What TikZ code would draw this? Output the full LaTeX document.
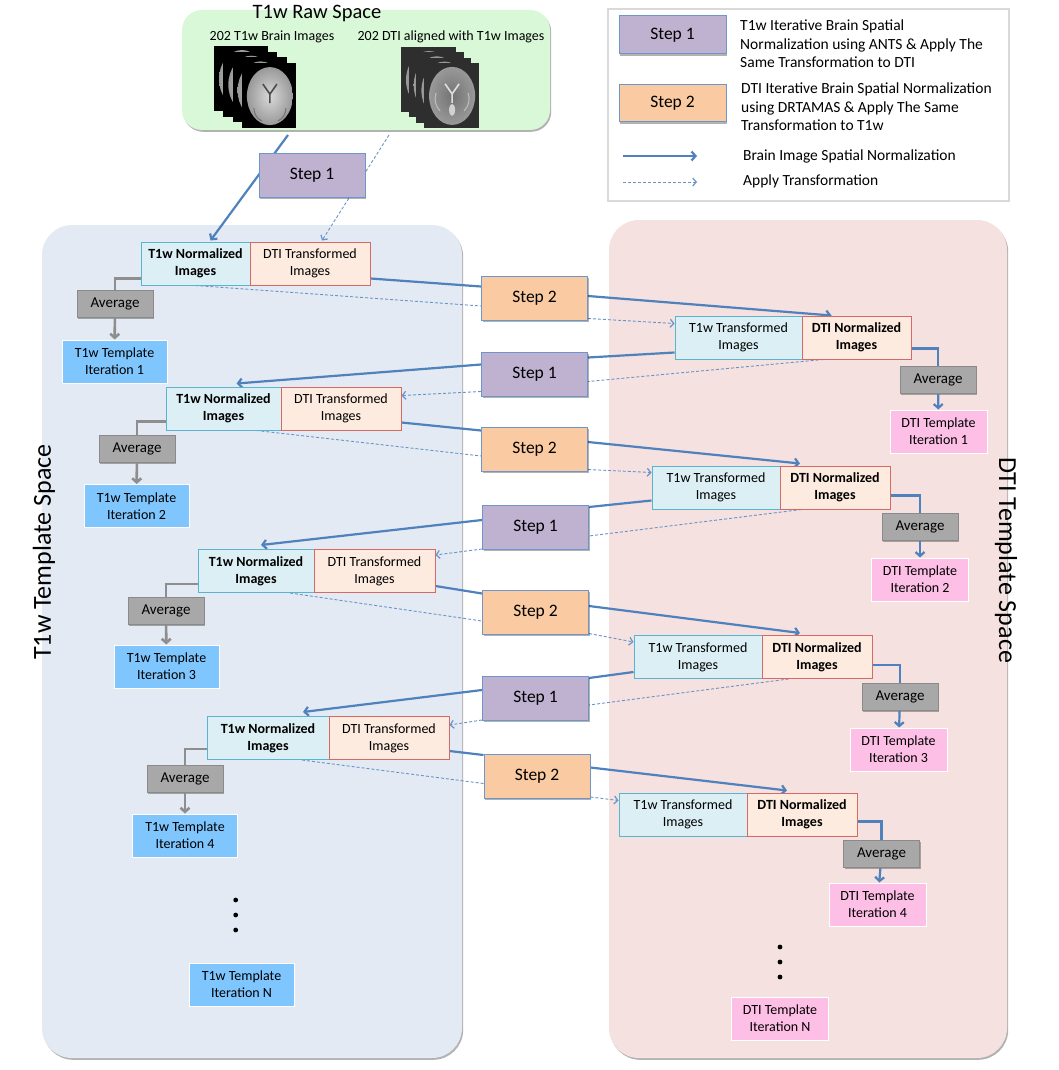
\documentclass[tikz,border=0pt]{standalone}
\usepackage{fontspec}
\setmainfont{Carlito}
\usetikzlibrary{arrows.meta,shadows}

\definecolor{lineblue}{HTML}{4F81BD}
\definecolor{t1fill}{HTML}{DCEFF5}
\definecolor{t1line}{HTML}{5BB4CE}
\definecolor{dtifill}{HTML}{FCEBDE}
\definecolor{dtiline}{HTML}{D46A66}
\definecolor{purplestep}{HTML}{BFB1D0}
\definecolor{orangestep}{HTML}{FACBA2}
\definecolor{stepline}{HTML}{6E95CC}
\definecolor{avgfill}{HTML}{A8A8A8}
\definecolor{avgline}{HTML}{8A8A8A}
\definecolor{t1tmpfill}{HTML}{7FC6FE}
\definecolor{dtitmpfill}{HTML}{FEBFE7}
\definecolor{lpanel}{HTML}{E3EAF4}
\definecolor{rpanel}{HTML}{F4E1E0}
\definecolor{rawgreen}{HTML}{D9F8D8}
\definecolor{connectgray}{HTML}{8E8E8E}
\definecolor{legline}{HTML}{D9D9D9}

\pgfdeclarelayer{back}
\pgfdeclarelayer{mid}
\pgfsetlayers{back,mid,main}

\tikzset{
  softshadow/.style={drop shadow={shadow xshift=1.2pt,shadow yshift=-1.8pt,fill=black,opacity=.3}},
  imgbox/.style={minimum height=43pt, inner sep=2pt, align=center, line width=1pt,
    font=\fontsize{14}{17}\selectfont},
  t1box/.style={imgbox, fill=t1fill, draw=t1line, minimum width=#1},
  dtibox/.style={imgbox, fill=dtifill, draw=dtiline, minimum width=#1},
  stepone/.style={draw=stepline, line width=1pt, fill=purplestep, minimum width=106pt,
    minimum height=44pt, font=\fontsize{17.5}{21}\selectfont, softshadow},
  steptwo/.style={stepone, fill=orangestep},
  avgbox/.style={fill=avgfill, draw=avgline, line width=1pt, minimum width=76pt,
    minimum height=27pt, font=\fontsize{15}{18}\selectfont, softshadow},
  t1tmp/.style={imgbox, fill=t1tmpfill, draw=white, minimum width=105pt},
  dtitmp/.style={imgbox, fill=dtitmpfill, draw=white, minimum width=97pt},
  normline/.style={draw=lineblue, line width=2.2pt},
  normarrow/.style={normline, -{Straight Barb[length=4pt,width=9pt]}},
  applyline/.style={draw=lineblue!85, line width=.9pt, dash pattern=on 3pt off 2pt},
  applyarrow/.style={applyline, -{Straight Barb[length=3.5pt,width=8pt,line width=1.2pt]}},
  grayline/.style={draw=connectgray, line width=2.6pt},
  grayarrow/.style={grayline, -{Straight Barb[length=4pt,width=9pt]}},
  legtext/.style={anchor=west, align=left, inner sep=0pt, font=\fontsize{15.5}{18.5}\selectfont},
  spacelabel/.style={font=\fontsize{26}{30}\selectfont, inner sep=0pt}
}

\begin{document}
\begin{tikzpicture}[x=1pt,y=-1pt]
  \useasboundingbox (0,0) rectangle (1058,1070);

  % template spaces
  \begin{pgfonlayer}{back}
    \fill[lpanel, rounded corners=30pt, softshadow] (42,225) rectangle (462,1058);
    \fill[rpanel, rounded corners=30pt, softshadow] (609,220) rectangle (1007,1058);
  \end{pgfonlayer}
  \node[spacelabel, rotate=90]  (t1space)  at (44,552)   {T1w Template Space};
  \node[spacelabel, rotate=-90] (dtispace) at (1006,560) {DTI Template Space};

  % raw space
  \node[fill=rawgreen, rounded corners=20pt, minimum width=368pt, minimum height=120pt,
        softshadow] (raw) at (366,70) {};
  \node[font=\fontsize{20.5}{24}\selectfont] (rawtitle) at (317,14) {T1w Raw Space};
  \node[font=\fontsize{14}{17}\selectfont] (rawt1)  at (272,37) {202 T1w Brain Images};
  \node[font=\fontsize{14}{17}\selectfont] (rawdti) at (451,37) {202 DTI aligned with T1w Images};

  \foreach \i in {0,...,3} {
    \begin{scope}[shift={(214+9.3*\i,46+5.7*\i)}]
      \fill[black] (0,0) rectangle (54,65);
      \shade[inner color=black!15, outer color=black!40] (28,33) ellipse (23pt and 29pt);
      \draw[black!70, line width=1.6pt] (21,21) -- (28,31) -- (35,21) (28,31) -- (28,40);
      \draw[black!55, line width=1pt] (12,45) to[bend right] (20,58) (44,45) to[bend left] (36,58);
    \end{scope}
    \begin{scope}[shift={(401+7.7*\i,47+5.3*\i)}]
      \fill[black!82] (0,0) rectangle (55,65);
      \shade[inner color=black!55, outer color=black!40] (28,33) ellipse (23pt and 29pt);
      \draw[black!12, line width=1.6pt] (21,21) -- (28,31) -- (35,21) (28,31) -- (28,40);
      \fill[black!18] (28,47) ellipse (3pt and 6pt);
      \draw[black!25, line width=1pt] (12,30) to[bend right] (16,48) (44,30) to[bend left] (40,48);
    \end{scope}
  }

  % legend
  \draw[legline, line width=2pt, fill=white] (608,9) rectangle (1009,201);
  \node[stepone, minimum width=107pt, minimum height=38pt] (legs1) at (672.5,35)  {Step 1};
  \node[steptwo, minimum width=107pt, minimum height=37pt] (legs2) at (672.5,103.5) {Step 2};
  \node[legtext] (legt1) at (740,44)  {T1w Iterative Brain Spatial\\Normalization using ANTS \& Apply The\\Same Transformation to DTI};
  \node[legtext] (legt2) at (741,107) {DTI Iterative Brain Spatial Normalization\\using DRTAMAS \& Apply The Same\\Transformation to T1w};
  \node[legtext] (legt3) at (743,156) {Brain Image Spatial Normalization};
  \node[legtext] (legt4) at (743,181) {Apply Transformation};
  \coordinate (lega1) at (623,156);
  \coordinate (lega2) at (697,156);
  \coordinate (legb1) at (623,182);
  \coordinate (legb2) at (697,182);
  \draw[normarrow]  (lega1) -- (lega2);
  \draw[applyarrow] (legb1) -- (legb2);

  % steps
  \node[stepone] (s1a) at (312,175)     {Step 1};
  \node[steptwo] (s2a) at (534.5,298)   {Step 2};
  \node[stepone] (s1b) at (534.5,374)   {Step 1};
  \node[steptwo] (s2b) at (534.5,449)   {Step 2};
  \node[stepone] (s1c) at (535.5,527.5) {Step 1};
  \node[steptwo] (s2c) at (535.5,612)   {Step 2};
  \node[stepone] (s1d) at (535.5,698.5) {Step 1};
  \node[steptwo] (s2d) at (537,776.5)   {Step 2};

  % T1w template space
  \node[t1box=109]  (t1n1)  at (195.5,263.5) {\textbf{T1w Normalized}\\\textbf{Images}};
  \node[dtibox=120] (dtit1) at (310,263.5)   {DTI Transformed\\Images};
  \node[t1box=115]  (t1n2)  at (223.5,408.5) {\textbf{T1w Normalized}\\\textbf{Images}};
  \node[dtibox=120] (dtit2) at (341,408.5)   {DTI Transformed\\Images};
  \node[t1box=116]  (t1n3)  at (256,571)     {\textbf{T1w Normalized}\\\textbf{Images}};
  \node[dtibox=121] (dtit3) at (374.5,571)   {DTI Transformed\\Images};
  \node[t1box=122]  (t1n4)  at (268,738)     {\textbf{T1w Normalized}\\\textbf{Images}};
  \node[dtibox=120] (dtit4) at (389,738)     {DTI Transformed\\Images};

  \node[avgbox] (avgl1) at (115,303.5) {Average};
  \node[avgbox] (avgl2) at (137,448.5) {Average};
  \node[avgbox] (avgl3) at (166,611)   {Average};
  \node[avgbox] (avgl4) at (185,778.5) {Average};

  \node[t1tmp] (tmpl1) at (114.5,361.5) {T1w Template\\Iteration 1};
  \node[t1tmp] (tmpl2) at (136.5,506)   {T1w Template\\Iteration 2};
  \node[t1tmp] (tmpl3) at (166.5,666.5) {T1w Template\\Iteration 3};
  \node[t1tmp] (tmpl4) at (185,835.5)   {T1w Template\\Iteration 4};
  \node[t1tmp] (tmplN) at (241.5,984.5) {T1w Template\\Iteration N};
  \foreach \y in {900,915,930}
    \fill (235.7,\y) circle (2.4pt);

  % DTI template space
  \node[t1box=127]  (t1tr1) at (738.5,337.5) {T1w Transformed\\Images};
  \node[dtibox=109] (dtin1) at (856.5,337.5) {\textbf{DTI Normalized}\\\textbf{Images}};
  \node[t1box=128]  (t1tr2) at (716,487.5)   {T1w Transformed\\Images};
  \node[dtibox=110] (dtin2) at (835,487.5)   {\textbf{DTI Normalized}\\\textbf{Images}};
  \node[t1box=128]  (t1tr3) at (698,657)     {T1w Transformed\\Images};
  \node[dtibox=110] (dtin3) at (817,657)     {\textbf{DTI Normalized}\\\textbf{Images}};
  \node[t1box=128]  (t1tr4) at (683,814.5)   {T1w Transformed\\Images};
  \node[dtibox=110] (dtin4) at (802,814.5)   {\textbf{DTI Normalized}\\\textbf{Images}};

  \node[avgbox] (avgr1) at (938,380)   {Average};
  \node[avgbox] (avgr2) at (920,526.5) {Average};
  \node[avgbox] (avgr3) at (900,696.5) {Average};
  \node[avgbox] (avgr4) at (881.5,854) {Average};

  \node[dtitmp] (tmpr1) at (938.5,431.5) {DTI Template\\Iteration 1};
  \node[dtitmp] (tmpr2) at (920,579.5)   {DTI Template\\Iteration 2};
  \node[dtitmp] (tmpr3) at (898.5,749.5) {DTI Template\\Iteration 3};
  \node[dtitmp] (tmpr4) at (877.5,904.5) {DTI Template\\Iteration 4};
  \node[dtitmp] (tmprN) at (780,1018.5)  {DTI Template\\Iteration N};
  \foreach \y in {947,962,977}
    \fill (780,\y) circle (2.4pt);

  % connectors
  \coordinate (rawa) at (288,135);
  \coordinate (rawb) at (389,135);
  \begin{pgfonlayer}{mid}
    \draw[normarrow]  (rawa) -- ([xshift=15pt,yshift=1pt]t1n1.north);
    \draw[applyarrow] (rawb) -- ([xshift=12pt,yshift=1pt]dtit1.north);

    \draw[normline]   ([yshift=7pt]dtit1.south east) -- ([yshift=-11pt]s2a.north west);
    \draw[normarrow]  ([yshift=2pt]s2a.east) -- ([xshift=-25pt]dtin1.north);
    \draw[applyline]  (t1n1.south) -- ([yshift=-8pt]s2a.west);
    \draw[applyarrow] ([yshift=2pt]s2a.south east) -- ([yshift=-8pt]t1tr1.north west);

    \draw[normline]   ([yshift=7pt]t1tr1.south west) -- ([yshift=-6pt]s1b.north east);
    \draw[normarrow]  ([yshift=-13pt]s1b.north west) -- ([xshift=13pt,yshift=3pt]t1n2.north);
    \draw[applyline]  ([xshift=22pt]dtin1.south west) -- ([yshift=15pt]s1b.south east);
    \draw[applyarrow] ([yshift=5pt]s1b.south west) -- ([yshift=-9pt]dtit2.north east);

    \draw[normline]   ([yshift=8pt]dtit2.south east) -- ([yshift=-4pt]s2b.north west);
    \draw[normarrow]  ([yshift=7pt]s2b.east) -- ([xshift=-35pt,yshift=2pt]dtin2.north);
    \draw[applyline]  ([xshift=33pt]t1n2.south) -- ([yshift=-7pt]s2b.west);
    \draw[applyarrow] ([yshift=2pt]s2b.south east) -- ([yshift=-7pt]t1tr2.north west);

    \draw[normline]   ([yshift=9pt]t1tr2.south west) -- ([yshift=-2pt]s1c.north east);
    \draw[normarrow]  ([yshift=-15pt]s1c.north west) -- ([xshift=5pt,yshift=4pt]t1n3.north);
    \draw[applyline]  ([xshift=22pt]dtin2.south west) -- ([yshift=14pt]s1c.south east);
    \draw[applyarrow] ([yshift=1pt]s1c.south west) -- ([yshift=-6pt]dtit3.north east);

    \draw[normline]   ([yshift=7pt]dtit3.south east) -- ([yshift=-4pt]s2c.north west);
    \draw[normarrow]  ([yshift=6pt]s2c.east) -- ([xshift=-17pt,yshift=2pt]dtin3.north);
    \draw[applyline]  ([xshift=34pt]t1n3.south) -- ([yshift=-9pt]s2c.west);
    \draw[applyarrow] ([yshift=1pt]s2c.south east) -- ([yshift=-7pt]t1tr3.north west);

    \draw[normline]   ([yshift=7pt]t1tr3.south west) -- ([yshift=-2pt]s1d.north east);
    \draw[normarrow]  ([yshift=-14pt]s1d.north west) -- ([xshift=35pt,yshift=4pt]t1n4.north);
    \draw[applyline]  ([xshift=27pt]dtin3.south west) -- ([yshift=16pt]s1d.south east);
    \draw[applyarrow] ([yshift=1pt]s1d.south west) -- ([yshift=-9pt]dtit4.north east);

    \draw[normline]   ([yshift=9pt]dtit4.south east) -- ([yshift=-1pt]s2d.north west);
    \draw[normarrow]  ([yshift=9pt]s2d.east) -- ([xshift=-15pt,yshift=2pt]dtin4.north);
    \draw[applyline]  ([xshift=34pt]t1n4.south) -- ([yshift=-7pt]s2d.west);
    \draw[applyarrow] ([yshift=2pt]s2d.south east) -- ([yshift=-8pt]t1tr4.north west);
  \end{pgfonlayer}

  % averaging
  \draw[grayline]  ([yshift=7pt]t1n1.south west) -| (avgl1.north);
  \draw[grayline]  ([yshift=9pt]t1n2.south west) -| (avgl2.north);
  \draw[grayline]  ([yshift=9pt]t1n3.south west) -| (avgl3.north);
  \draw[grayline]  ([yshift=11pt]t1n4.south west) -| (avgl4.north);
  \draw[grayarrow] (avgl1) -- (tmpl1);
  \draw[grayarrow] (avgl2) -- (tmpl2);
  \draw[grayarrow] (avgl3) -- (tmpl3);
  \draw[grayarrow] (avgl4) -- (tmpl4);

  \draw[normline]  ([yshift=11pt]dtin1.south east) -| (avgr1.north);
  \draw[normline]  ([yshift=14pt]dtin2.south east) -| (avgr2.north);
  \draw[normline]  ([yshift=14pt]dtin3.south east) -| (avgr3.north);
  \draw[normline]  ([yshift=15pt]dtin4.south east) -| (avgr4.north);
  \draw[normarrow] (avgr1) -- (tmpr1);
  \draw[normarrow] (avgr2) -- (tmpr2);
  \draw[normarrow] (avgr3) -- (tmpr3);
  \draw[normarrow] (avgr4) -- (tmpr4);

\end{tikzpicture}
\end{document}
